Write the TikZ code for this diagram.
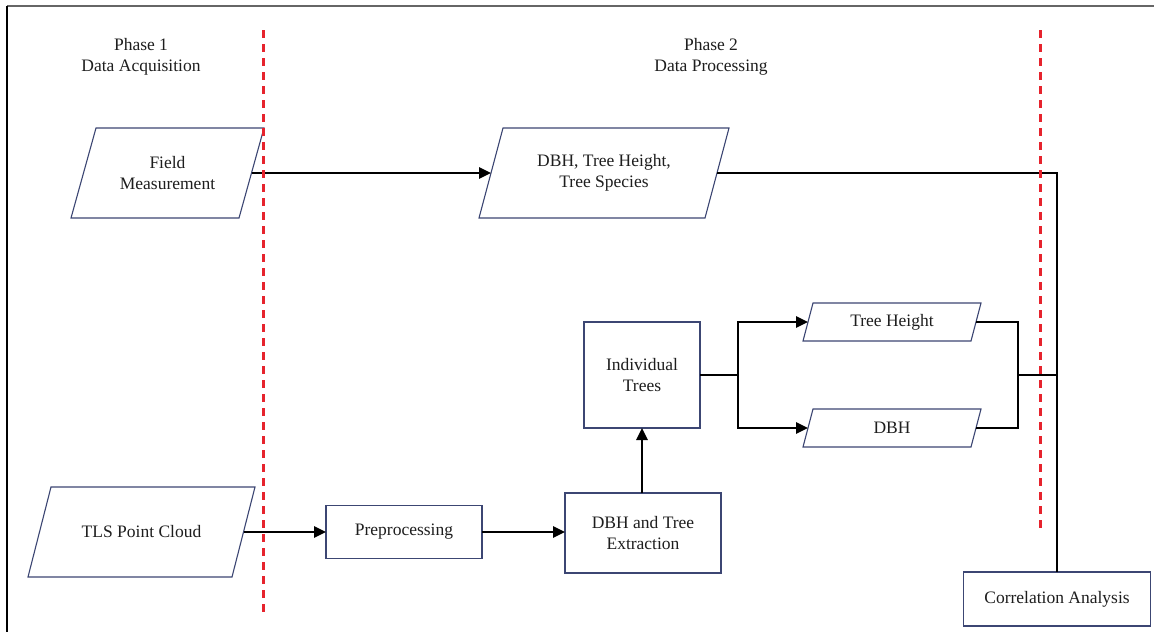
\documentclass[tikz,border=0pt]{standalone}
\usepackage{fontspec}
\setmainfont{Liberation Serif}
\usetikzlibrary{arrows.meta}
\definecolor{boxblue}{RGB}{60,70,115}
\definecolor{dashred}{RGB}{230,35,45}
\definecolor{txt}{RGB}{30,30,30}
\newcommand\parabox[2]{%
  \draw[boxline] ([xshift=#2/2]#1.north west) -- ([xshift=#2/2]#1.north east)
    -- ([xshift=-#2/2]#1.south east) -- ([xshift=-#2/2]#1.south west) -- cycle;}
\tikzset{
  every node/.style={outer sep=0pt, inner sep=0pt, text=txt,
    font=\fontsize{17.5}{21}\selectfont, align=center},
  boxline/.style={draw=boxblue, line width=1.1pt},
  rectbox/.style={boxline, fill=white},
  parabase/.style={draw=none},
  conn/.style={line width=2.6pt, black},
  arr/.style={conn, -{Triangle[length=12pt,width=11pt]}},
  phaseline/.style={dashred, line width=3pt, dash pattern=on 8pt off 6pt},
  frame/.style={line width=2pt}
}
\begin{document}
\begin{tikzpicture}[x=1pt,y=-1pt]
\useasboundingbox (0,0) rectangle (1154,632);
\fill[white] (0,0) rectangle (1154,632);
% frame
\draw[frame, gray!80!black] (7,5.5) -- (1154,5.5);
\draw[frame, black] (7,5.5) -- (7,632);

% phase labels
\node (p1) at (141,57) {Phase 1\\Data Acquisition};
\node (p2) at (711,57) {Phase 2\\Data Processing};

% parallelogram nodes
\node[parabase, minimum width=168pt, minimum height=90pt] (fm) at (167.5,173) {Field\\Measurement};
\node[parabase, minimum width=226pt, minimum height=90pt] (dbhs) at (604,173) {DBH, Tree Height,\\Tree Species};
\node[parabase, minimum width=204pt, minimum height=90pt] (tls) at (141.5,532) {TLS Point Cloud};
\node[parabase, minimum width=168pt, minimum height=38pt] (th) at (892,322) {Tree Height};
\node[parabase, minimum width=168pt, minimum height=38pt] (dbh) at (892,428) {DBH};
\parabox{fm}{25}
\parabox{dbhs}{24}
\parabox{tls}{23}
\parabox{th}{10}
\parabox{dbh}{10}

% rectangle nodes
\node[rectbox, minimum width=156pt, minimum height=53pt] (pre) at (404,532) {Preprocessing};
\node[rectbox, minimum width=156pt, minimum height=80pt] (ext) at (643,533) {DBH and Tree\\Extraction};
\node[rectbox, minimum width=116pt, minimum height=106pt] (it) at (642,375) {Individual\\Trees};
\node[rectbox, minimum width=187pt, minimum height=54pt] (corr) at (1057,599) {Correlation Analysis};

% connectors
\draw[arr] (fm.east) -- (dbhs.west);
\draw[conn] (dbhs.east) -| (corr.north);
\draw[arr] (tls.east) -- (pre.west);
\draw[arr] (pre.west -| pre.east) -- (ext.west |- pre.east);
\draw[arr] (ext.north -| it.south) -- (it.south);
\draw[conn] (it.east) -- ++(38,0) coordinate (b1);
\draw[arr] (b1) |- (th.west);
\draw[arr] (b1) |- (dbh.west);
\coordinate (j) at (1018,375);
\draw[conn] (th.east) -| (j) |- (dbh.east);
\draw[conn] (j) -- (j -| corr.north);

% phase separators
\draw[phaseline] (263,30) -- (263,612);
\draw[phaseline] (1040,30) -- (1040,530);
\end{tikzpicture}
\end{document}
